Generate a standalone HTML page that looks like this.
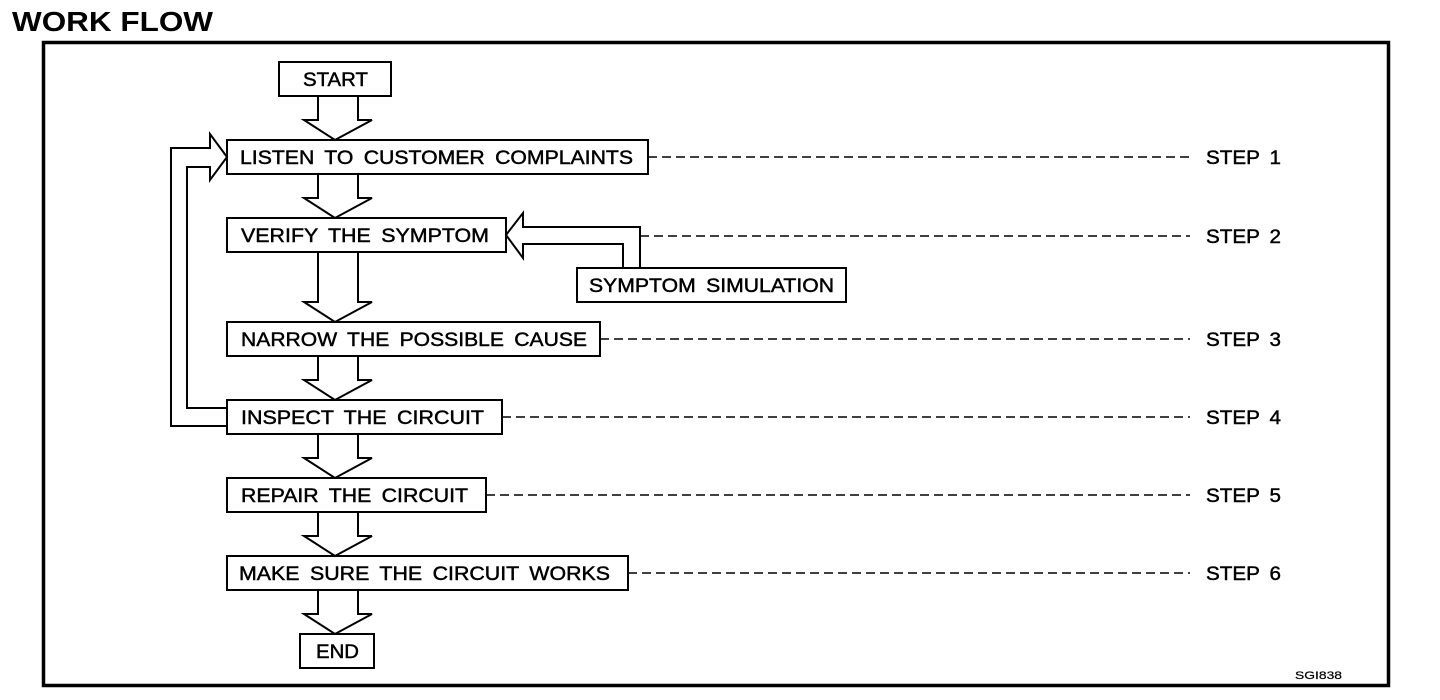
<!DOCTYPE html>
<html><head><meta charset="utf-8"><style>
html,body{margin:0;padding:0;background:#fff;}
svg{display:block;}
text{font-family:"Liberation Sans",sans-serif;fill:#000;}
</style></head><body>
<svg width="1440" height="700" viewBox="0 0 1440 700" xmlns="http://www.w3.org/2000/svg">
<text x="12" y="31" font-size="28" font-weight="bold" textLength="201" lengthAdjust="spacingAndGlyphs">WORK FLOW</text>
<rect x="43.5" y="42.5" width="1345" height="643" fill="none" stroke="#000" stroke-width="3.5"/>
<g fill="#fff" stroke="#000" stroke-width="2">
<rect x="279" y="62" width="112" height="34"/>
<rect x="227" y="140" width="421" height="34"/>
<rect x="227" y="218" width="279" height="34"/>
<rect x="577" y="268" width="269" height="34"/>
<rect x="227" y="322" width="373" height="34"/>
<rect x="227" y="400" width="275" height="34"/>
<rect x="227" y="478" width="259" height="34"/>
<rect x="227" y="556" width="401" height="34"/>
<rect x="300" y="634" width="74" height="34"/>
</g>
<g fill="none" stroke="#000" stroke-width="2" stroke-linejoin="miter">
<path d="M318 96 V120 H304 L335 140 L372 120 H358 V96"/>
<path d="M318 174 V198 H304 L335 218 L372 198 H358 V174"/>
<path d="M318 252 V302 H304 L335 322 L372 302 H358 V252"/>
<path d="M318 356 V380 H304 L335 400 L372 380 H358 V356"/>
<path d="M318 434 V458 H304 L335 478 L372 458 H358 V434"/>
<path d="M318 512 V536 H304 L335 556 L372 536 H358 V512"/>
<path d="M318 590 V614 H304 L335 634 L372 614 H358 V590"/>
<path d="M227 426 H171 V148 H210 V134 L227 157 L210 180 V167 H187 V408 H227"/>
<path d="M640 268 V227 H523 V213 L506 235 L523 258 V244 H623 V268"/>
</g>
<g stroke="#000" stroke-width="1.5" stroke-dasharray="9,5" fill="none">
<line x1="648" y1="157" x2="1190" y2="157"/>
<line x1="640" y1="236" x2="1190" y2="236"/>
<line x1="600" y1="339" x2="1190" y2="339"/>
<line x1="502" y1="417" x2="1190" y2="417"/>
<line x1="486" y1="495" x2="1190" y2="495"/>
<line x1="628" y1="573" x2="1190" y2="573"/>
</g>
<g font-size="19" word-spacing="4" stroke="#000" stroke-width="0.45">
<text x="303" y="86" textLength="65" lengthAdjust="spacingAndGlyphs">START</text>
<text x="240" y="164" textLength="393" lengthAdjust="spacingAndGlyphs">LISTEN TO CUSTOMER COMPLAINTS</text>
<text x="241" y="242" textLength="248" lengthAdjust="spacingAndGlyphs">VERIFY THE SYMPTOM</text>
<text x="589" y="292" textLength="245" lengthAdjust="spacingAndGlyphs">SYMPTOM SIMULATION</text>
<text x="241" y="346" textLength="346" lengthAdjust="spacingAndGlyphs">NARROW THE POSSIBLE CAUSE</text>
<text x="241" y="424" textLength="243" lengthAdjust="spacingAndGlyphs">INSPECT THE CIRCUIT</text>
<text x="241" y="502" textLength="227" lengthAdjust="spacingAndGlyphs">REPAIR THE CIRCUIT</text>
<text x="239" y="580" textLength="371" lengthAdjust="spacingAndGlyphs">MAKE SURE THE CIRCUIT WORKS</text>
<text x="316" y="658" textLength="43" lengthAdjust="spacingAndGlyphs">END</text>
<text x="1206" y="164" textLength="75" lengthAdjust="spacingAndGlyphs">STEP 1</text>
<text x="1206" y="243" textLength="75" lengthAdjust="spacingAndGlyphs">STEP 2</text>
<text x="1206" y="346" textLength="75" lengthAdjust="spacingAndGlyphs">STEP 3</text>
<text x="1206" y="424" textLength="75" lengthAdjust="spacingAndGlyphs">STEP 4</text>
<text x="1206" y="502" textLength="75" lengthAdjust="spacingAndGlyphs">STEP 5</text>
<text x="1206" y="580" textLength="75" lengthAdjust="spacingAndGlyphs">STEP 6</text>
</g>
<text x="1295" y="679" font-size="11" stroke="#000" stroke-width="0.2" textLength="47" lengthAdjust="spacingAndGlyphs">SGI838</text>
</svg>
</body></html>
